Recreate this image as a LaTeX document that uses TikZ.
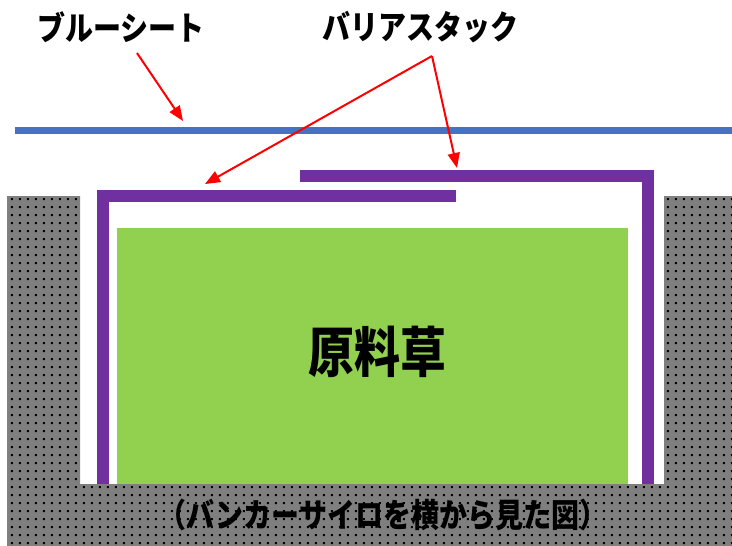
\documentclass[tikz,border=0pt]{standalone}
\usepackage{fontspec}
\newfontfamily\jp{Noto Sans CJK JP}
\usetikzlibrary{arrows.meta,patterns}
\definecolor{purp}{HTML}{7030A0}
\definecolor{grass}{HTML}{92D050}
\definecolor{sheet}{HTML}{4472C4}
\definecolor{ground}{HTML}{7F7F7F}
\pgfdeclarepatternformonly{sdots}{\pgfpointorigin}{\pgfpoint{8.3pt}{8.3pt}}{\pgfpoint{8.3pt}{8.3pt}}{\pgfpathrectangle{\pgfpoint{3pt}{3pt}}{\pgfpoint{2.2pt}{2.2pt}}\pgfusepath{fill}}
\newcommand{\tall}[1]{\scalebox{1}[1.18]{#1}}
\tikzset{
  label/.style={font=\jp\bfseries\fontsize{28}{30}\selectfont, inner sep=0pt},
  pointer/.style={red, line width=2pt, -{Triangle[length=15pt,width=12pt]}},
  stack/.style={purp, line width=12pt},
}
\begin{document}
\begin{tikzpicture}[x=1pt,y=-1pt]
\useasboundingbox (0,0) rectangle (732,546);
% ground / silo walls
\fill[ground] (7,196) -- (80,196) -- (80,484) -- (664,484) -- (664,196) -- (732,196) -- (732,546) -- (7,546) -- cycle;
\fill[pattern=sdots, pattern color=black] (7,196) -- (80,196) -- (80,484) -- (664,484) -- (664,196) -- (732,196) -- (732,546) -- (7,546) -- cycle;
% grass
\fill[grass] (117,228) rectangle (628,484);
\node[font=\jp\bfseries\fontsize{46}{48}\selectfont, inner sep=0pt] (grassl) at (377,352) {\tall{原料草}};
% barrier stacks
\draw[stack, line cap=butt] (103,484) -- (103,196) -- (456,196);
\draw[stack, line cap=butt] (300,175.5) -- (648,175.5) -- (648,484);
% blue sheet
\draw[sheet, line width=7pt] (15,130) -- (732,130);
% labels
\node[label] (bs) at (121,27) {\tall{ブルーシート}};
\node[label] (ba) at (420,27) {\tall{バリアスタック}};
\coordinate (bsEnd) at (183,121);
\coordinate (baEnd1) at (205,184);
\coordinate (baEnd2) at (457,168);
\coordinate (bsStart) at (137,53);
\coordinate (baStart) at (432,56);
\draw[pointer] (bsStart) -- (bsEnd);
\draw[pointer] (baStart) -- (baEnd1);
\draw[pointer] (baStart) -- (baEnd2);
% caption
\node[label, font=\jp\bfseries\fontsize{28}{30}\selectfont] (cap) at (383,515) {\tall{（バンカーサイロを横から見た図）}};
\end{tikzpicture}
\end{document}
